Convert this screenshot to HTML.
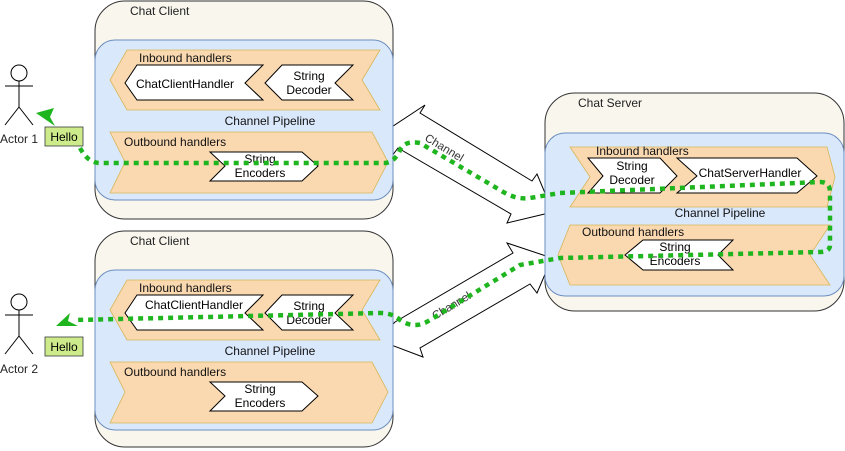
<!DOCTYPE html>
<html><head><meta charset="utf-8"><style>
html,body{margin:0;padding:0;background:#fff;}
svg{display:block;font-family:"Liberation Sans",Arial,sans-serif;}
</style></head><body>
<svg width="845" height="451" viewBox="0 0 845 451" xmlns="http://www.w3.org/2000/svg">
<polygon points="378,136 425,105 420,113 532,181 537,174 553,212 507,223 511,214 398,148 385,165" fill="#fff" stroke="#000" stroke-width="1"/>
<polygon points="513,253 507,243 552,258 537,293 530,284 420,348 423,357 378,340 395,322" fill="#fff" stroke="#000" stroke-width="1"/>
<text x="0" y="0" font-size="11.5" fill="#333" transform="translate(424,140) rotate(31)">Channel</text>
<text x="0" y="0" font-size="11.5" fill="#333" transform="translate(435,320) rotate(-31)">Channel</text>

<g font-size="12">
<rect x="95" y="1" width="298" height="218" rx="30" fill="#f9f6ee" stroke="#333"/>
<text x="130" y="15" fill="#222">Chat Client</text>
<rect x="95" y="40" width="298" height="160" rx="20" fill="#dae8fc" stroke="#6c8ebf"/>
<polygon points="127,50 380,50 362,80 380,110 127,110 110,80" fill="#fad9b1" stroke="#d6b656" stroke-width="0.8"/>
<text x="139" y="62" fill="#111">Inbound handlers</text>
<polygon points="137,65 263,65 245,83 263,100 137,100 125,83" fill="#fff" stroke="#000"/>
<text x="185" y="88" text-anchor="middle">ChatClientHandler</text>
<polygon points="282,65 353,65 335,83 353,100 282,100 265,83" fill="#fff" stroke="#000"/>
<text x="309" y="80" text-anchor="middle">String</text>
<text x="309" y="94" text-anchor="middle">Decoder</text>
<text x="270" y="125" text-anchor="middle" fill="#111">Channel Pipeline</text>
<polygon points="110,132 372,132 388,162 372,193 110,193 125,162" fill="#fad9b1" stroke="#d6b656" stroke-width="0.8"/>
<text x="124" y="146" fill="#111">Outbound handlers</text>
<polygon points="210,152 302,152 318,166 302,181 210,181 225,166" fill="#fff" stroke="#000"/>
<text x="260" y="163" text-anchor="middle">String</text>
<text x="260" y="177" text-anchor="middle">Encoders</text>
</g>
<g transform="translate(0,230)" font-size="12">
<rect x="95" y="1" width="298" height="216" rx="30" fill="#f9f6ee" stroke="#333"/>
<text x="130" y="15" fill="#222">Chat Client</text>
<rect x="95" y="40" width="298" height="160" rx="20" fill="#dae8fc" stroke="#6c8ebf"/>
<polygon points="127,50 380,50 362,80 380,110 127,110 110,80" fill="#fad9b1" stroke="#d6b656" stroke-width="0.8"/>
<text x="139" y="62" fill="#111">Inbound handlers</text>
<polygon points="137,65 263,65 245,83 263,100 137,100 125,83" fill="#fff" stroke="#000"/>
<text x="194" y="79" text-anchor="middle">ChatClientHandler</text>
<polygon points="282,65 353,65 335,83 353,100 282,100 265,83" fill="#fff" stroke="#000"/>
<text x="309" y="80" text-anchor="middle">String</text>
<text x="309" y="94" text-anchor="middle">Decoder</text>
<text x="270" y="125" text-anchor="middle" fill="#111">Channel Pipeline</text>
<polygon points="110,132 372,132 388,162 372,193 110,193 125,162" fill="#fad9b1" stroke="#d6b656" stroke-width="0.8"/>
<text x="124" y="146" fill="#111">Outbound handlers</text>
<polygon points="210,152 302,152 318,166 302,181 210,181 225,166" fill="#fff" stroke="#000"/>
<text x="260" y="163" text-anchor="middle">String</text>
<text x="260" y="177" text-anchor="middle">Encoders</text>
</g>
<g font-size="12">
<rect x="545" y="93" width="299" height="218" rx="30" fill="#f9f6ee" stroke="#333"/>
<text x="578" y="107" fill="#222">Chat Server</text>
<rect x="545" y="133" width="299" height="163" rx="20" fill="#dae8fc" stroke="#6c8ebf"/>
<polygon points="570,147 827,147 835,177 827,207 570,207 590,177" fill="#fad9b1" stroke="#d6b656" stroke-width="0.8"/>
<text x="596" y="155" fill="#111">Inbound handlers</text>
<polygon points="588,158 660,158 677,176 660,193 588,193 603,176" fill="#fff" stroke="#000"/>
<text x="632" y="170" text-anchor="middle">String</text>
<text x="632" y="184" text-anchor="middle">Decoder</text>
<polygon points="677,158 797,158 817,176 797,193 677,193 697,176" fill="#fff" stroke="#000"/>
<text x="750" y="177" text-anchor="middle">ChatServerHandler</text>
<text x="720" y="217" text-anchor="middle" fill="#111">Channel Pipeline</text>
<polygon points="570,225 830,225 810,255 830,285 570,285 558,255" fill="#fad9b1" stroke="#d6b656" stroke-width="0.8"/>
<text x="582" y="236" fill="#111">Outbound handlers</text>
<polygon points="643,240 733,240 718,255 733,270 643,270 625,255" fill="#fff" stroke="#000"/>
<text x="675" y="251" text-anchor="middle">String</text>
<text x="675" y="265" text-anchor="middle">Encoders</text>
</g>
<g stroke="#000" fill="none" stroke-width="1">
<circle cx="19" cy="73" r="8" fill="#fff"/>
<line x1="19" y1="81" x2="19" y2="107"/><line x1="5" y1="86" x2="33" y2="86"/>
<line x1="19" y1="107" x2="5" y2="125"/><line x1="19" y1="107" x2="33" y2="125"/>
<circle cx="19" cy="302" r="8" fill="#fff"/>
<line x1="19" y1="310" x2="19" y2="336"/><line x1="5" y1="315" x2="33" y2="315"/>
<line x1="19" y1="336" x2="5" y2="354"/><line x1="19" y1="336" x2="33" y2="354"/>
</g>
<text x="19" y="143" font-size="12" text-anchor="middle" fill="#222">Actor 1</text>
<text x="19" y="373" font-size="12" text-anchor="middle" fill="#222">Actor 2</text>
<rect x="45" y="127" width="38" height="19" fill="#cdeb8b" stroke="#36393d" stroke-width="0.8"/>
<text x="64" y="141" font-size="12" text-anchor="middle">Hello</text>
<rect x="45" y="337" width="38" height="19" fill="#cdeb8b" stroke="#36393d" stroke-width="0.8"/>
<text x="64" y="351" font-size="12" text-anchor="middle">Hello</text>
<path d="M80,148 Q88,163 100,163 L385,163 Q395,162 400,150 Q405,140 420,143 L500,190 Q515,200 530,198 L560,193 L820,182 Q830,182 830,192 L830,245 Q830,252 820,252 L560,258 L520,265 L430,320 Q415,330 400,320 Q393,313 380,313 L75,320" fill="none" stroke="#1fb51f" stroke-width="4.5" stroke-dasharray="5 5"/>
<polygon points="36,113 54,108 50,117 55,126" fill="#1fb51f"/>
<polygon points="56,326 70,313 68,321 78,326" fill="#1fb51f"/>
</svg>
</body></html>
